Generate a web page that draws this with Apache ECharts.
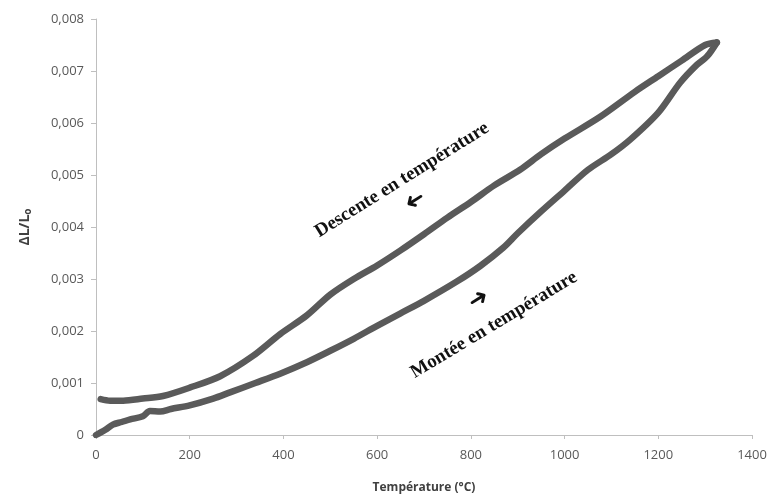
<!DOCTYPE html>
<html>
<head>
<meta charset="utf-8">
<script src="https://cdn.jsdelivr.net/npm/echarts@6/dist/echarts.min.js"></script>
<style>
  html, body { margin: 0; padding: 0; background: #fff; }
  #chart { width: 771px; height: 499px; }
</style>
</head>
<body>
<div id="chart"></div>
<script>
// montée en température (courbe basse)
const montéeT = [0, 20, 36, 55, 73, 100, 115, 137, 160, 200, 250, 286, 340, 393, 450, 500, 550, 600, 650, 700, 770, 820, 869, 900, 950, 1000, 1050, 1100, 1140, 1200, 1246, 1280, 1304, 1325]
const montéeDL = [0, 0.0001, 0.0002, 0.00025, 0.0003, 0.00036, 0.00046, 0.00045, 0.0005, 0.00057, 0.0007, 0.00082, 0.001, 0.00118, 0.0014, 0.00162, 0.00185, 0.0021, 0.00234, 0.00258, 0.00295, 0.00325, 0.0036, 0.00388, 0.0043, 0.0047, 0.0051, 0.0054, 0.00568, 0.0062, 0.00677, 0.0071, 0.00728, 0.00755]

// descente en température (courbe haute)
const descenteT = [10, 30, 58, 100, 143, 200, 265, 335, 393, 450, 500, 550, 600, 650, 700, 750, 800, 850, 905, 950, 1000, 1076, 1150, 1200, 1250, 1300, 1325]
const descenteDL = [0.00069, 0.00066, 0.00066, 0.0007, 0.00075, 0.00091, 0.00113, 0.00152, 0.00194, 0.0023, 0.0027, 0.003, 0.00326, 0.00355, 0.00386, 0.00418, 0.00448, 0.0048, 0.0051, 0.0054, 0.0057, 0.00612, 0.0066, 0.0069, 0.0072, 0.0075, 0.00755]

const xTicks = { min: 0, max: 1400, interval: 200 }
const yTicks = { min: 0, max: 0.008, interval: 0.001 }

const lineColor = '#5a5a5a'
const txtColor = '#595959'

const dom = document.querySelector('#chart')
const E = echarts.init(dom, null, { renderer: 'canvas' })

const mkSeries = (xs, ys) => ({
  type: 'line',
  data: xs.map((x, i) => [x, ys[i]]),
  smooth: 0.3,
  showSymbol: false,
  symbol: 'none',
  lineStyle: { color: lineColor, width: 6.5, cap: 'round', join: 'round' },
  animation: false
})

const arrowFont = 'bold 24px "DejaVu Sans"'

const option = {
  animation: false,
  grid: { left: 96, right: 19, top: 19, bottom: 63 },
  xAxis: {
    type: 'value',
    min: xTicks.min,
    max: xTicks.max,
    interval: xTicks.interval,
    name: 'Température (°C)',
    nameLocation: 'middle',
    nameGap: 47,
    nameTextStyle: { fontFamily: 'Open Sans', fontWeight: 'bold', fontSize: 12, color: '#404040' },
    axisLine: { lineStyle: { color: '#bfbfbf', width: 1 } },
    axisTick: { show: true, length: 4, lineStyle: { color: '#bfbfbf' } },
    splitLine: { show: false },
    axisLabel: { margin: 14, fontFamily: 'Open Sans', fontSize: 13, color: txtColor, formatter: v => String(v) }
  },
  yAxis: {
    type: 'value',
    min: yTicks.min,
    max: yTicks.max,
    interval: yTicks.interval,
    name: 'ΔL/L{sub|o}',
    nameLocation: 'middle',
    nameRotate: 90,
    nameGap: 63,
    nameTextStyle: {
      fontFamily: 'Open Sans', fontWeight: 'bold', fontSize: 14, color: '#404040',
      rich: { sub: { fontFamily: 'Open Sans', fontWeight: 'bold', fontSize: 10, color: '#404040', verticalAlign: 'bottom', padding: [6, 0, 0, 0] } }
    },
    axisLine: { show: true, lineStyle: { color: '#bfbfbf', width: 1 } },
    axisTick: { show: true, length: 5, lineStyle: { color: '#bfbfbf' } },
    splitLine: { show: false },
    axisLabel: {
      margin: 12,
      fontFamily: 'Open Sans',
      fontSize: 13,
      color: txtColor,
      formatter: v => v === 0 ? '0' : v.toFixed(3).replace('.', ',')
    }
  },
  series: [
    mkSeries(montéeT, montéeDL),
    mkSeries(descenteT, descenteDL)
  ],
  graphic: [
    // annotations
    {
      type: 'text', x: 402, y: 180, rotation: 32 * Math.PI / 180,
      style: { text: 'Descente en température', font: 'bold 19px "Liberation Serif"', fill: '#111', align: 'center', verticalAlign: 'middle' }
    },
    {
      type: 'text', x: 414, y: 199, rotation: (180 + 32) * Math.PI / 180,
      style: { text: '➜', font: arrowFont, fill: '#111', align: 'center', verticalAlign: 'middle' }
    },
    {
      type: 'text', x: 494, y: 325, rotation: 31 * Math.PI / 180,
      style: { text: 'Montée en température', font: 'bold 19px "Liberation Serif"', fill: '#111', align: 'center', verticalAlign: 'middle' }
    },
    {
      type: 'text', x: 479, y: 300, rotation: 32 * Math.PI / 180,
      style: { text: '➜', font: arrowFont, fill: '#111', align: 'center', verticalAlign: 'middle' }
    }
  ]
}
E.setOption(option)
</script>
</body>
</html>
